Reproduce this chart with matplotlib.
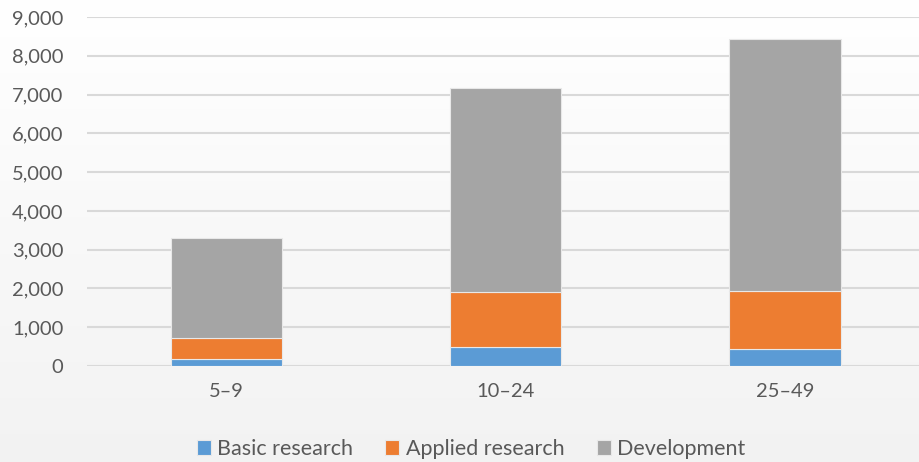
import matplotlib
matplotlib.use("Agg")
import matplotlib.pyplot as plt
import numpy as np

# data
categories = ["5\u20139", "10\u201324", "25\u201349"]
basic = [170, 480, 450]
applied = [550, 1420, 1490]
development = [2580, 5270, 6480]
series_names = ["Basic research", "Applied research", "Development"]
colors = ["#5b9bd5", "#ed7d31", "#a5a5a5"]
y_ticks = np.arange(0, 9001, 1000)

plt.rcParams["font.family"] = ["Lato", "DejaVu Sans"]
text_color = "#595959"

fig = plt.figure(figsize=(9.2, 4.62), dpi=100)

# soft vertical gradient behind everything
bg = fig.add_axes([0, 0, 1, 1], zorder=-10)
grad = np.linspace(1.0, 0.95, 256).reshape(-1, 1)
bg.imshow(np.dstack([grad, grad, grad]), aspect="auto", extent=[0, 1, 0, 1],
          interpolation="bicubic")
bg.axis("off")

ax = fig.add_axes([0.0946, 0.2078, 0.91, 0.7554])
ax.patch.set_alpha(0)

x = np.arange(len(categories))
w = 0.4
bottom = np.zeros(len(categories))
for vals, name, c in zip([basic, applied, development], series_names, colors):
    ax.bar(x, vals, w, bottom=bottom, color=c, label=name,
           edgecolor="#e8e8e8", linewidth=0.8, zorder=3)
    bottom += np.array(vals)

ax.set_xlim(-0.5, 2.5)
ax.set_ylim(0, 9000)
ax.set_yticks(y_ticks)
ax.set_yticklabels([f"{v:,}" for v in y_ticks])
ax.set_xticks(x)
ax.set_xticklabels(categories)
ax.yaxis.grid(True, color="#d9d9d9", linewidth=1.5, zorder=0)
ax.tick_params(axis="both", length=0, labelsize=14.5, labelcolor=text_color)
ax.tick_params(axis="y", pad=17)
ax.tick_params(axis="x", pad=12)
for s in ax.spines.values():
    s.set_visible(False)

leg = fig.legend(loc="center", bbox_to_anchor=(0.512, 0.028), ncol=3,
                 frameon=False, fontsize=15.5, handlelength=0.65, handleheight=0.65,
                 handletextpad=0.3, columnspacing=1.5)
for t in leg.get_texts():
    t.set_color(text_color)

fig.savefig("out.png", dpi=100)
